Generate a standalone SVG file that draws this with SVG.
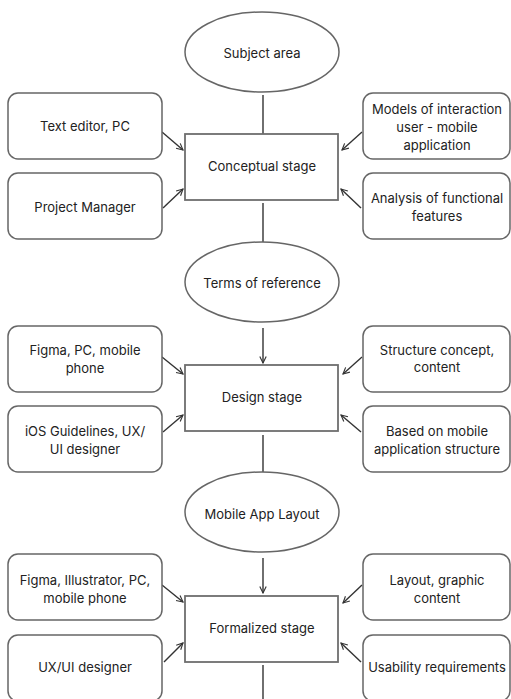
<svg xmlns="http://www.w3.org/2000/svg" width="511" height="699" viewBox="0 0 511 699">
<defs>
<style>
.box{fill:#fff;stroke:#666;stroke-width:1.5}
.stage{fill:#fff;stroke:#6e6e6e;stroke-width:1.8}
.ell{fill:#fff;stroke:#666;stroke-width:1.5}
text{font-family:Inter,"Liberation Sans",sans-serif;font-size:13px;fill:#222;text-anchor:middle;dominant-baseline:central}
.c{stroke:#333;stroke-width:1.4;fill:none}
</style>
<marker id="ah" viewBox="0 0 10 10" refX="9" refY="5" markerWidth="8" markerHeight="8" orient="auto" markerUnits="userSpaceOnUse">
<path d="M1,1 L9,5 L1,9" fill="none" stroke="#333" stroke-width="1.4"/>
</marker>
</defs>
<rect width="511" height="699" fill="#fff"/>
<g id="connectors">
<line class="c" x1="263" y1="95" x2="263" y2="134"/>
<line class="c" x1="263" y1="203" x2="263" y2="242"/>
<line class="c" x1="263" y1="328" x2="263" y2="363" marker-end="url(#ah)"/>
<line class="c" x1="263" y1="435" x2="263" y2="472"/>
<line class="c" x1="263" y1="558" x2="263" y2="593" marker-end="url(#ah)"/>
<line class="c" x1="263" y1="665" x2="263" y2="699"/>
<line class="c" x1="162" y1="132" x2="183" y2="150" marker-end="url(#ah)"/>
<line class="c" x1="163" y1="208" x2="183" y2="189" marker-end="url(#ah)"/>
<line class="c" x1="362" y1="132" x2="342" y2="150" marker-end="url(#ah)"/>
<line class="c" x1="361" y1="208" x2="341" y2="189" marker-end="url(#ah)"/>
<line class="c" x1="162" y1="357" x2="183" y2="374" marker-end="url(#ah)"/>
<line class="c" x1="163" y1="432" x2="183" y2="415" marker-end="url(#ah)"/>
<line class="c" x1="362" y1="357" x2="343" y2="374" marker-end="url(#ah)"/>
<line class="c" x1="361" y1="432" x2="341" y2="415" marker-end="url(#ah)"/>
<line class="c" x1="162" y1="585" x2="183" y2="602" marker-end="url(#ah)"/>
<line class="c" x1="164" y1="662" x2="183" y2="643" marker-end="url(#ah)"/>
<line class="c" x1="362" y1="585" x2="343" y2="603" marker-end="url(#ah)"/>
<line class="c" x1="361" y1="662" x2="341" y2="643" marker-end="url(#ah)"/>
</g>
<g id="subject-area"><ellipse class="ell" cx="262" cy="52" rx="77" ry="40"/><text x="262" y="53">Subject area</text></g>
<g id="text-editor"><rect class="box" x="8" y="93" width="154" height="66" rx="10"/><text x="85" y="126">Text editor, PC</text></g>
<g id="project-manager"><rect class="box" x="8" y="173" width="154" height="66" rx="10"/><text x="85" y="207">Project Manager</text></g>
<g id="conceptual-stage"><rect class="stage" x="185" y="134" width="153" height="66"/><text x="262" y="166">Conceptual stage</text></g>
<g id="models"><rect class="box" x="363" y="93" width="147" height="66" rx="10"/><text x="437" y="109">Models of interaction</text><text x="437" y="127">user - mobile</text><text x="437" y="145">application</text></g>
<g id="analysis"><rect class="box" x="363" y="173" width="147" height="66" rx="10"/><text x="437" y="198">Analysis of functional</text><text x="437" y="216">features</text></g>
<g id="terms-of-reference"><ellipse class="ell" cx="262" cy="282" rx="77" ry="40"/><text x="262" y="283">Terms of reference</text></g>
<g id="figma-pc"><rect class="box" x="8" y="326" width="154" height="66" rx="10"/><text x="85" y="350">Figma, PC, mobile</text><text x="85" y="368">phone</text></g>
<g id="ios-guidelines"><rect class="box" x="8" y="406" width="154" height="66" rx="10"/><text x="85" y="431">iOS Guidelines, UX/</text><text x="85" y="449">UI designer</text></g>
<g id="design-stage"><rect class="stage" x="185" y="365" width="153" height="66"/><text x="262" y="397">Design stage</text></g>
<g id="structure-concept"><rect class="box" x="363" y="326" width="147" height="66" rx="10"/><text x="437" y="350">Structure concept,</text><text x="437" y="367">content</text></g>
<g id="based-on"><rect class="box" x="363" y="406" width="147" height="66" rx="10"/><text x="437" y="431">Based on mobile</text><text x="437" y="449">application structure</text></g>
<g id="mobile-app-layout"><ellipse class="ell" cx="262" cy="512" rx="77" ry="40"/><text x="262" y="514">Mobile App Layout</text></g>
<g id="figma-illustrator"><rect class="box" x="8" y="554" width="154" height="66" rx="10"/><text x="85" y="580">Figma, Illustrator, PC,</text><text x="85" y="598">mobile phone</text></g>
<g id="ux-ui-designer"><rect class="box" x="8" y="635" width="154" height="66" rx="10"/><text x="85" y="667">UX/UI designer</text></g>
<g id="formalized-stage"><rect class="stage" x="185" y="596" width="153" height="66"/><text x="262" y="628">Formalized stage</text></g>
<g id="layout-graphic"><rect class="box" x="363" y="554" width="147" height="66" rx="10"/><text x="437" y="580">Layout, graphic</text><text x="437" y="598">content</text></g>
<g id="usability"><rect class="box" x="363" y="635" width="147" height="66" rx="10"/><text x="437" y="667">Usability requirements</text></g>
</svg>
